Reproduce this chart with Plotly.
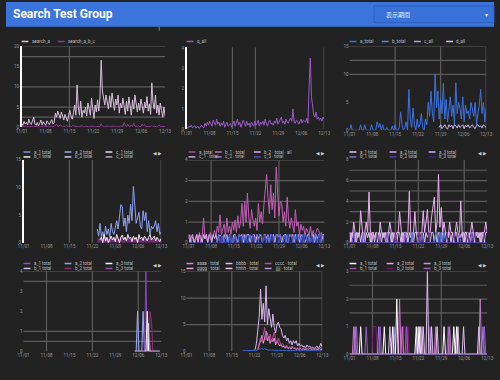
import plotly.graph_objects as go

W, H = 500, 380
BG = "#222222"
GRID = "#5c5c5c"
TICKC = "#9a9a9a"
FONT = "Roboto"

# ---------------- data ----------------
x_dates = ["11/01", "11/08", "11/15", "11/22", "11/29", "12/06", "12/13"]

# Panel 1
p1_light = [1, 0.5, 1.5, 0.8, 1.2, 0.6, 2, 1, 0.7, 1.5, 2.5, 0.8, 0.5, 1.2, 0.4, 1, 1.8, 0.6, 1.4, 0.9,
            0.5, 1.6, 1.1, 0.7, 1.3, 1.9, 0.8, 1.2,
            3.5, 2.5, 4, 3, 2.2, 3.8, 2.6, 1.8, 3.2, 2.4, 1.5, 3, 4.2, 2.8, 2, 3.6, 5.5, 3,
            10.5, 5, 3,
            6.5, 2.5, 4.2, 3.5, 5, 2.8, 6, 4, 3, 7.2, 4.5, 2.2, 5.5, 3.8, 6.8, 4, 7.5,
            16.6, 9, 6.5,
            5.5, 8, 6.2, 4.5, 7.8, 5, 8.5, 6.5, 4.2, 7, 5.5, 8, 3.5, 6, 4.8, 7.2, 5.2,
            3.2, 6.5, 4, 7.5, 5.5, 3, 6.8, 4.5, 8, 5, 3.8, 6, 4.2, 7, 5.5, 3.5, 6.2, 4.8, 7.6, 4, 5.8, 3.2,
            11, 6, 4.5, 8, 3.5,
            5.5, 3, 6, 4.2, 2.5, 5, 2.8]
p1_purple = [0.2, 0.1, 0.2, 0.3, 0.1, 0.2, 0.2, 0.1, 0.3, 0.2, 0.1, 0.2, 0.2, 0.3, 0.1, 0.2, 0.1, 0.2, 0.3, 0.2,
             0.2, 0.1, 0.2, 0.2, 0.1, 0.3, 0.2, 0.2, 0.5, 0.8, 0.3, 0.2, 0.6, 0.2, 0.1, 0.3, 0.2, 0.5, 0.2, 0.3,
             0.2, 0.1, 0.3, 0.6, 0.2, 0.2, 0.3, 0.1, 0.2, 0.2, 0.4, 0.2, 0.1, 0.3, 0.2, 0.2, 0.1, 0.3, 0.2, 0.2,
             0.3, 0.1, 0.2, 0.2, 0.3, 0.2, 0.9, 0.3, 0.2, 0.1, 0.2, 0.3, 0.2, 0.2, 0.1, 0.3, 0.2, 0.2, 0.3, 0.1,
             0.2, 0.2, 0.4, 0.2, 0.3, 1.2, 0.4, 0.2, 0.8, 0.3, 0.2, 0.6, 0.2, 1.0, 0.3, 0.2, 0.2, 0.4, 0.1, 0.2,
             0.8, 0.3, 0.7, 0.2, 0.2, 0.3, 0.2, 0.2, 0.5, 0.2, 0.3, 0.2, 0.1, 0.2, 0.6, 0.2, 0.2, 0.3, 0.2, 0.2]

# Panel 2
p2_purple = [0.1, 0.05, 0.15, 0.1, 0.2, 0.08, 0.12, 0.18, 0.06, 0.1, 0.15, 0.05, 0.12, 0.2, 0.1, 0.08, 0.3, 0.15, 0.35, 0.2,
             0.4, 0.25, 0.15, 0.45, 0.3, 0.2, 0.5, 0.25, 0.35, 0.15, 0.3, 0.2, 0.4, 0.1, 0.25, 0.35, 0.15, 0.2, 0.3, 0.1,
             0.25, 0.4, 0.15, 0.3, 0.5, 0.2, 0.35, 0.1, 0.25, 0.45, 0.3, 0.15, 0.4, 0.2, 0.3, 0.1, 0.35, 0.25, 0.15, 0.4,
             0.2, 0.3, 0.45, 0.15, 0.35, 0.25, 0.4, 0.2, 0.5, 0.3, 0.15, 0.35, 0.45, 0.25, 0.3, 0.2, 0.4, 0.3, 0.55, 0.25,
             0.35, 0.45, 0.6, 0.3, 0.4, 0.25, 0.5, 0.35, 0.3, 0.45, 0.55, 0.4, 1.0, 0.35, 0.3, 0.45, 0.4, 0.25, 0.35, 0.5,
             0.3, 0.45, 0.4, 0.35, 0.55, 0.3, 2.2, 3.5, 1.6, 1.0, 0.7, 0.6, 0.85, 0.5, 0.6, 0.45, 0.55, 0.4, 0.6, 0.5]

# Panel 3
p3_blue = [0, 1, 0, 0, 0, 0, 0, 0, 1, 0, 0, 1, 0, 0, 0, 0, 1, 0, 0, 0,
           1.5, 0.5, 1.2, 0, 1, 0, 0, 0.5, 0, 0, 0, 0.8, 0, 1, 0, 0, 0.5, 3.3, 1, 0,
           0.5, 1.5, 0, 7.3, 2, 0.5, 4, 1, 0, 2, 0.5, 1, 3, 0.5, 0, 2, 1, 5, 2.5, 7,
           3, 1.5, 10, 4, 7, 2, 5.5, 3, 8.4, 2, 5.5, 1.5, 3.5, 6, 2.5, 4.5, 1, 8.5, 3, 5,
           4, 2, 6, 1.5, 4.5, 3, 3.5, 2, 5, 4, 2.5, 5, 1, 3, 4.5, 7.3, 3, 5, 1.5, 4]
p3_lav_start = 65
p3_lav = [0.5, 1, 0.3, 0.8, 1, 0.5, 0.2, 1, 0.6, 0.9, 0.3, 1, 0.8, 0.4, 1, 0.5, 0.7, 1, 0.3, 0.9,
          0.6, 1, 0.4, 0.8, 1, 0.5, 0.3, 0.9, 1, 0.6, 0.8, 0.4, 1, 0.7, 0.5]

# Panel 4
p4_blue_start = 53
p4_blue = [2.5, 1.2, 3.5, 1, 2, 0.8, 3, 1.5, 2.5, 1, 3.5, 2, 1.5, 3, 4, 2.5, 5, 6.9, 6.5, 3,
           4.5, 2, 5, 3.5, 7, 4, 10.2, 6, 3.5, 4.5, 5.5, 3, 2.5, 5.8, 4, 5.5, 2, 4, 1.5, 3,
           2.5, 3, 4, 2, 3.5, 1.5, 2]
p4_white_start = 55
p4_white = [0.5, 1, 0, 1.5, 0.3, 1, 0, 0.8, 1.2, 0.5, 1, 0.2, 1.5, 0.8, 0, 1, 1.4, 0.5, 1, 0.3,
            1.5, 0.8, 1, 0.2, 1.2, 0.6, 1, 0, 1.5, 0.7, 1, 0.4, 1.2, 0.8, 0.3, 1, 1.5, 0.5, 0.8, 1.2,
            0.3, 1, 0.6, 0.2, 0.8]
p4_mag_start = 53
p4_mag = [0.8, 0.5, 1, 0.6, 0.9, 0.4, 1.1, 0.7, 0.5, 1, 0.8, 0.6, 0.9, 0.4, 1, 0.7, 0.5, 1.1, 0.8, 0.6,
          0.9, 0.5, 1, 0.7, 0.4, 0.9, 0.6, 1, 0.8, 0.5, 0.9, 0.7, 0.4, 1, 0.6, 0.8, 0.5, 0.9, 0.7, 1,
          0.4, 0.8, 0.6, 0.9, 0.5, 0.7, 0.6]

# Panel 5
p5_pink = [0.2, 0.4, 0, 0.3, 0.1, 0, 0.4, 0.2, 0.5, 0, 0.3, 1.2, 0.2, 0.4, 0, 0.3, 0.5, 0.1, 0.4, 0.6,
           0.3, 0.8, 0.5, 1.35, 0.4, 0.6, 0.9, 0.3, 1.2, 0.5, 0.8, 0.4, 1.0, 0.6, 1.1, 0.5, 1.3, 0.7, 1.0, 1.9,
           0.8, 2.0, 1.0, 2.4, 1.2, 0.7, 1.6, 1.1, 0.8, 1.2, 0.6, 1.9, 1.0, 1.5, 0.9, 1.8, 2.6, 3.3, 2.2, 1.4,
           2.8, 1.6, 2.4, 1.2, 3.65, 2.5, 1.3, 2.0, 1.9, 1.0, 1.5, 0.8, 2.2, 1.1, 0.7, 1.2, 0.9, 0.5, 1.6, 0.8,
           1.0, 0.4, 0.9, 0.6, 0.8, 0.3, 0.7, 0.5, 0.4, 0.8, 0.3, 0.6, 0.2, 0.5, 0.7, 0.6, 0.3, 0.5, 0.2, 0.4]
p5_lav = [0.4, 0, 0.3, 0.4, 0, 0.2, 0.4, 0, 0.4, 0.3, 0, 0.4, 0.2, 0.4, 0, 0.4, 0.3, 0, 0.4, 0.2,
          0.4, 0, 0.4, 0.3, 0.4, 0, 0.4, 0.2, 0.4, 0, 0.4, 0.3, 0, 0.4, 0.4, 0.2, 0, 0.4, 0.3, 0.4,
          0, 0.4, 0.2, 0.4, 0.4, 0, 0.3, 0.4, 0.4, 0, 0.4, 0.2, 0.4, 0.3, 0, 0.4, 0.4, 0.2, 0.4, 0,
          0.4, 0.3, 0.4, 0, 0.4, 0.4, 0.2, 0.4, 0, 0.3, 0.4, 0.4, 0, 0.2, 0.4, 0.3, 0.4, 0, 0.4, 0.2,
          0.4, 0, 0.4, 0.3, 0.4, 0, 0.2, 0.4, 0.4, 0, 0.3, 0.4, 0, 0.4, 0.2, 0.4, 0.3, 0, 0.4, 0.4]
p5_blue_start = 20
p5_blue = [0.2, 0, 0.4, 0, 0, 0.3, 0, 0.4, 0, 0, 0.4, 0, 0.2, 0, 0.4, 0, 0, 0.4, 0.3, 0,
           0.4, 0, 0.4, 0, 0.2, 0.4, 0, 0.4, 0, 0.3, 0.4, 0, 0.4, 0.4, 0, 0.2, 0.4, 0, 0.4, 0,
           0.4, 0.4, 0, 0.3, 0.4, 0.4, 0, 0.4, 0.2, 0, 0.4, 0, 0.4, 0, 0.3, 0.4, 0, 0.4, 0, 0.4,
           0.2, 0.4, 0, 0.4, 0, 0.4, 0.3, 0, 0.4, 0, 0.4, 0, 0.2, 0.4, 0, 0.4, 0, 0.3, 0.4, 0]
p5_navy_idx = [24, 31, 38, 47, 55, 61, 66, 73, 79, 84, 90, 96]
p5_navy_val = [0.4, 0.4, 0.3, 0.4, 0.4, 0.4, 0.3, 0.4, 0.4, 0.4, 0.3, 0.4]

# Panel 6
p6_pink = [0, 1, 0.5, 2, 1, 0, 1, 0.8, 3.1, 1, 0, 1, 2, 1, 4.9, 1, 0, 1, 0.5, 1,
           1, 0, 2, 1, 0.5, 1, 0, 1, 1, 2, 1, 0, 1, 0.5, 1, 1, 3, 1, 0, 1,
           1, 0.5, 1, 4.95, 1, 0, 1, 3, 1, 1, 0.5, 1, 1, 3.1, 1, 2, 3.2, 1, 1, 2.5,
           3.5, 4.4, 1, 2, 6.6, 1.5, 3.4, 1, 2, 1, 1, 0.5, 2, 1, 1, 0, 1, 2, 1, 0.5,
           4.05, 1, 1, 0, 1, 1, 0.5, 1, 2, 1, 0, 1, 1, 0.5, 1, 0, 1, 1, 2, 1]
p6_lav = [1, 0, 1, 1, 0, 1, 0.5, 1, 0, 1, 1, 0, 1, 0.5, 1, 0, 1, 1, 0, 1,
          0, 1, 1, 0, 1, 0.5, 1, 0, 1, 1, 0, 1, 0.5, 1, 0, 1, 1, 0, 1, 0,
          1, 1, 0, 1, 0.5, 1, 0, 1, 1, 0, 1, 0, 1, 1, 0, 1, 0.5, 1, 0, 1,
          1, 0, 1, 0, 1, 1, 0, 1, 0.5, 1, 0, 1, 1, 0, 1, 0, 1, 1, 0, 1,
          0.5, 1, 0, 1, 1, 0, 1, 0, 1, 1, 0, 1, 0.5, 1, 0, 1, 1, 0, 1, 1]
p6_blue_idx = [45, 62, 63, 65, 68]
p6_blue_val = [1, 1, 1, 1, 1]
p6_navy_idx = [20, 33, 50, 57, 70, 75, 85, 90, 97]
p6_navy_val = [1, 1, 1, 1, 1, 1, 1, 1, 1]
p6_purp_idx = [3, 10, 27, 40, 52, 66, 79, 88]
p6_purp_val = [1, 1, 1, 1, 1, 1, 1, 1]

# Panel 7 (values only at the end)
p7_start = 80
p7_lblue_idx, p7_lblue_val = [82, 86], [2, 2]
p7_purple_idx, p7_purple_val = [88], [4]
p7_white_idx, p7_white_val = [89], [2]
p7_pink_idx, p7_pink_val = [90], [1.4]
p7_mag_idx, p7_mag_val = [91, 92], [2, 1.5]

# Panel 8
p8_lav_start = 50
p8_lav = [0.3, 1.5, 4, 6.5, 11.7, 6, 9, 5.5, 12.3, 5, 8, 6.5, 4.5, 7, 4.5, 3.5, 5, 5.5, 4.5, 4.2,
          3, 2.5, 3, 2, 2.5, 1.5, 2, 1.2, 2, 1.5, 2, 1, 1.5, 1, 1.2, 0.8, 1, 0.7, 1.2, 0.8,
          1, 0.6, 0.8, 0.5, 0.7, 1, 0.6, 0.8, 1.5, 0.8]
p8_pink_start = 52
p8_pink = [0.5, 1.5, 2.5, 1.8, 3, 4.5, 2.2, 3.5, 2, 3.2, 1.8, 2.8, 3.6, 2.2, 1.5, 2.5, 1.8, 1.2, 1.5, 1,
           0.8, 1.2, 0.6, 0.9, 0.7, 1, 0.5, 0.8, 0.4, 0.7, 0.5, 0.6, 0.3, 0.5, 0.8, 0.4, 0.6, 0.3, 0.5, 0.7,
           0.4, 0.3, 0.5, 0.6, 0.3, 0.4, 0.8, 0.3]
p8_lpink_start = 52
p8_lpink = [0.3, 1, 2, 3, 1.5, 2.5, 3.8, 2, 2.8, 1.5, 2.2, 1.8, 2.5, 1.2, 2, 1.5, 1, 1.3, 0.8, 1,
            0.6, 0.9, 0.5, 0.7, 0.4, 0.8, 0.5, 0.6, 0.3, 0.5, 0.4, 0.6, 0.3, 0.5, 0.4, 0.3, 0.5, 0.4, 0.6, 0.3,
            0.4, 0.3, 0.5, 0.3, 0.4, 0.6, 0.3, 0.4]
p8_blue_start = 41
p8_blue = [0.1, 0.1, 0.2, 0.1, 0.1, 0.1, 0.2, 0.1, 0.1, 0.1, 0.2, 0.3, 0.5, 0.4, 0.6, 0.3, 0.5, 0.4, 0.3, 0.2,
           0.3, 0.2, 0.3, 0.2, 0.1, 0.2, 0.1, 0.2, 0.1, 0.1, 0.2, 0.1, 0.1, 0.2, 0.1, 0.1, 0.2, 0.1, 0.1, 0.1,
           0.2, 0.1, 0.1, 0.1, 0.2, 0.1, 0.1, 0.1, 0.2, 0.1, 0.1, 0.1, 0.2, 0.1, 0.1, 0.1, 0.2, 0.1, 0.1]

# Panel 9 (counts)
p9_white_idx, p9_white_val = [8, 25, 31, 34, 48, 50, 68, 75, 77], [1, 1, 1, 2, 1, 1, 1, 1, 1]
p9_lav_idx, p9_lav_val = [29, 51, 53, 56, 59, 63, 78, 82, 93], [1, 1, 1, 3, 1, 1, 1, 1, 1]
p9_pink_idx, p9_pink_val = [3, 36, 38, 52, 62, 72, 94], [1, 2, 1, 1, 1, 1, 2]
p9_purp_idx, p9_purp_val = [5, 12, 22, 41, 58, 71, 97], [1, 1, 1, 1, 1, 1, 1]
p9_mag_idx, p9_mag_val = [17, 18, 19, 37, 39, 40, 42], [1, 1, 1, 1, 1, 1, 1]
p9_mpur_idx, p9_mpur_val = [4, 21, 32, 49, 96], [1, 1, 1, 1, 1]

# legend labels / colours
leg = {
    1: [("search_a", "#ddc6e0"), ("search_a_b_c", "#8e3a8e")],
    2: [("q_all", "#9a5cc6")],
    3: [("a_total", "#3d72e0"), ("b_total", "#5a82ea"), ("c_all", "#a0a0f0"), ("d_all", "#d0c0f0")],
    4: [("a_1 total", "#7b8fe0"), ("a_2 total", "#98aaf0"), ("c_1 total", "#e8e0f0"),
        ("b_1 total", "#f0f0f0"), ("b_2 total", "#d8c8e8"), ("c_2 total", "#c8a0d0")],
    5: [("a_total", "#a8509a"), ("b_1 · total", "#c070b8"), ("b_2 · total · all", "#e0a0e8"),
        ("c_1 · total", "#c8b0f0"), ("c_2 · total", "#8c70e0"), ("c_3 · total", "#5050d0")],
    6: [("a_1 total", "#e0c8f0"), ("a_2 total", "#d0b0e8"), ("a_3 total", "#c8b8f0"),
        ("b_1 total", "#8070e0"), ("b_2 total", "#5040c0"), ("b_3 total", "#302890")],
    7: [("a_1 total", "#9a50c0"), ("a_2 total", "#8aa0f0"), ("a_3 total", "#ffffff"),
        ("b_1 total", "#c0c8f0"), ("b_2 total", "#8a2a6a"), ("b_3 total", "#9a50b0")],
    8: [("aaaa · total", "#c890d8"), ("bbbb · total", "#e0c0f0"), ("cccc · total", "#b04c9c"),
        ("gggg · total", "#e8a8d8"), ("hhhh · total", "#f0c0e0"), ("jjjj · total", "#b0a0e0")],
    9: [("a_1 total", "#ffffff"), ("a_2 total", "#d8b0e0"), ("a_3 total", "#c890d8"),
        ("b_1 total", "#a050b0"), ("b_2 total", "#6a1a5a"), ("b_3 total", "#9a60c0")],
}


def seq(start, vals):
    return list(range(start, start + len(vals))), vals


def spikes(n, start, idx, val):
    d = dict(zip(idx, val))
    xs = list(range(start, n))
    return xs, [d.get(i, 0) for i in xs]


def S(xy, c, fill=None, fc=None):
    return dict(x=xy[0], y=xy[1], c=c, fill=fill, fc=fc)


panels = [
    dict(box=(16, 163, 45, 127), n=120, yr=[0, 20], yv=[0, 5, 10, 15, 20], yt=["0", "5", "10", "15", "20"],
         vg=[2], hg=[2.5, 5, 10, 17.5, 20], axis=True, legx=[16, 53], legrows=[40], pager=None,
         series=[S(seq(0, p1_light), "#d9c0dc"), S(seq(0, p1_purple), "#8e3a8e")]),
    dict(box=(185, 326, 46, 129), n=120, yr=[0, 4.03], yv=[0, 1, 2, 3, 4], yt=["0", "1", "2", "3", "4"],
         vg=[2, 3, 6], hg=[], axis=True, legx=[185], legrows=[40], pager=None,
         series=[S(seq(0, p2_purple), "#9a5cc6")]),
    dict(box=(352, 492, 45, 130), n=100, yr=[0, 15], yv=[0, 5, 10, 15], yt=["0", "5", "10", "15"],
         vg=[2, 4, 6], hg=[10, 12.5, 15], axis=False, legx=[352, 385, 418, 451], legrows=[40], pager=None,
         series=[S(seq(0, p3_blue), "#3d72e0"), S(seq(p3_lav_start, p3_lav), "#c8b8f0")]),
    dict(box=(18, 159, 160, 244), n=100, yr=[0, 15], yv=[0, 5, 10, 15], yt=["0", "5", "10", "15"],
         vg=[2, 3, 6], hg=[], axis=True, legx=[18, 60, 102], legrows=[152, 157], pager=(155, 154),
         series=[S(seq(p4_mag_start, p4_mag), "#7a2a80", "tozeroy", "rgba(122,42,128,0.85)"),
                 S(seq(p4_blue_start, p4_blue), "#8ea2f0"),
                 S(seq(p4_white_start, p4_white), "#f0eaf4")]),
    dict(box=(187, 326, 160, 244), n=100, yr=[0, 4], yv=[0, 1, 2, 3, 4], yt=["0", "1", "2", "3", "4"],
         vg=[1, 4], hg=[1, 2, 3, 4], axis=False, legx=[187, 214, 254], legrows=[152, 157], pager=(322, 154),
         series=[S(seq(0, p5_pink), "#c060b4"), S(seq(0, p5_lav), "#d8b0f0"),
                 S(seq(p5_blue_start, p5_blue), "#4a6ae0"),
                 S(spikes(100, 0, p5_navy_idx, p5_navy_val), "#3a3aa8")]),
    dict(box=(352, 493, 160, 244), n=100, yr=[0, 8], yv=[0, 2, 4, 6, 8], yt=["0", "2", "4", "6", "8"],
         vg=[2, 3, 5], hg=[2, 3, 4, 5, 6, 7], axis=False, legx=[352, 393, 433], legrows=[152, 157], pager=(488, 154),
         series=[S(seq(0, p6_lav), "#d8c8f4"), S(seq(0, p6_pink), "#eab0f0"),
                 S(spikes(100, 0, p6_purp_idx, p6_purp_val), "#7a5ad8"),
                 S(spikes(100, 0, p6_blue_idx, p6_blue_val), "#3a70e0"),
                 S(spikes(100, 0, p6_navy_idx, p6_navy_val), "#5a2a7a")]),
    dict(box=(18, 159, 273, 354), n=100, yr=[0, 4], yv=[0, 1, 2, 3, 4], yt=["0", "1", "2", "3", "4"],
         vg=[1, 3, 5], hg=[0.5, 1, 3.5, 4], axis=False, legx=[18, 60, 102], legrows=[265, 270], pager=(155, 267),
         series=[S(spikes(99, p7_start, p7_lblue_idx, p7_lblue_val), "#9ab0f8"),
                 S(spikes(99, p7_start, p7_purple_idx, p7_purple_val), "#8e44c4"),
                 S(spikes(99, p7_start, p7_pink_idx, p7_pink_val), "#e8c0f0"),
                 S(spikes(99, p7_start, p7_mag_idx, p7_mag_val), "#9a2a80"),
                 S(spikes(99, p7_start, p7_white_idx, p7_white_val), "#ffffff")]),
    dict(box=(185, 324, 273, 354), n=100, yr=[0, 15], yv=[0, 5, 10, 15], yt=["0", "5", "10", "15"],
         vg=[1, 2, 5, 6], hg=[5, 10, 15], axis=False, legx=[185, 225, 265], legrows=[265, 270], pager=(322, 267),
         series=[S(seq(p8_lav_start, p8_lav), "#d8b8f0"), S(seq(p8_lpink_start, p8_lpink), "#e8a0d8"),
                 S(seq(p8_pink_start, p8_pink), "#b8509c"), S(seq(p8_blue_start, p8_blue), "#3a6ad8")]),
    dict(box=(352, 493, 273, 357), n=100, yr=[0, 3], yv=[0, 1, 2, 3], yt=["0", "1", "2", "3"],
         vg=[1, 4], hg=[1.5, 2, 2.5, 3], axis=False, legx=[352, 390, 428], legrows=[265, 270], pager=(488, 267),
         series=[S(spikes(100, 0, p9_mag_idx, p9_mag_val), "#7a1e6e"),
                 S(spikes(100, 0, p9_mpur_idx, p9_mpur_val), "#a080e0"),
                 S(spikes(100, 0, p9_purp_idx, p9_purp_val), "#9a5ad0"),
                 S(spikes(100, 0, p9_pink_idx, p9_pink_val), "#c878c8"),
                 S(spikes(100, 0, p9_lav_idx, p9_lav_val), "#dcc0ec"),
                 S(spikes(100, 0, p9_white_idx, p9_white_val), "#ffffff"),
                 S(spikes(100, 0, [], []), "#2a2a88")]),
]

fig = go.Figure()
layout_axes = {}
shapes = []
annotations = []

for i, p in enumerate(panels, start=1):
    xa = "xaxis" if i == 1 else f"xaxis{i}"
    ya = "yaxis" if i == 1 else f"yaxis{i}"
    xr = "x" if i == 1 else f"x{i}"
    yr = "y" if i == 1 else f"y{i}"
    x0, x1, yt, yb = p["box"]
    n = p["n"]
    tickpos = [k * (n - 1) / 6 for k in range(7)]
    layout_axes[xa] = dict(domain=[x0 / W, x1 / W], anchor=yr, range=[0, n - 1], tickmode="array",
                           tickvals=tickpos, ticktext=x_dates, showgrid=False, zeroline=False,
                           showline=False, ticks="", tickfont=dict(size=4.5, color=TICKC), fixedrange=True)
    layout_axes[ya] = dict(domain=[1 - yb / H, 1 - yt / H], anchor=xr, range=p["yr"], tickmode="array",
                           tickvals=p["yv"], ticktext=p["yt"], showgrid=False, zeroline=False,
                           showline=p["axis"], linecolor="#ffffff", linewidth=1.5, ticks="",
                           tickfont=dict(size=4.5, color=TICKC), fixedrange=True)
    for k in p["vg"]:
        shapes.append(dict(type="line", xref=xr, yref=f"{yr} domain", x0=tickpos[k], x1=tickpos[k],
                           y0=0, y1=1, line=dict(color=GRID, width=1.2), layer="below"))
    for v in p["hg"]:
        shapes.append(dict(type="line", xref=f"{xr} domain", yref=yr, x0=0, x1=1, y0=v, y1=v,
                           line=dict(color=GRID, width=1.2), layer="below"))
    for s in p["series"]:
        fig.add_trace(go.Scatter(x=s["x"], y=s["y"], mode="lines", line=dict(color=s["c"], width=1),
                                 fill=s["fill"], fillcolor=s["fc"], xaxis=xr, yaxis=yr,
                                 showlegend=False, hoverinfo="skip"))
    # legend (drawn as swatch + text)
    items = leg[i]
    ncol = len(p["legx"])
    for j, (lab, col) in enumerate(items):
        lx = p["legx"][j % ncol]
        ly = p["legrows"][j // ncol]
        shapes.append(dict(type="line", xref="paper", yref="paper", x0=lx / W, x1=(lx + 7) / W,
                           y0=1 - ly / H, y1=1 - ly / H, line=dict(color=col, width=1.5)))
        annotations.append(dict(xref="paper", yref="paper", x=(lx + 8.5) / W, y=1 - ly / H, text=lab,
                                showarrow=False, xanchor="left", yanchor="middle",
                                font=dict(size=4.5, color="#bdbdbd", family=FONT)))
    if p["pager"]:
        px_, py_ = p["pager"]
        annotations.append(dict(xref="paper", yref="paper", x=px_ / W, y=1 - py_ / H, text="◀ ▶",
                                showarrow=False, xanchor="center", yanchor="middle",
                                font=dict(size=4.5, color="#d0d0d0", family="DejaVu Sans")))

# header
shapes.insert(0, dict(type="rect", xref="paper", yref="paper", x0=0, x1=1, y0=1 - 25 / H, y1=1,
                      fillcolor="#3b74db", line=dict(width=0), layer="below"))
shapes.append(dict(type="rect", xref="paper", yref="paper", x0=377 / W, x1=1, y0=1 - 21 / H, y1=1 - 4 / H,
                   fillcolor="#3a71d8", line=dict(color="#2c5fbf", width=1)))
shapes.append(dict(type="line", xref="paper", yref="paper", x0=157 / W, x1=157 / W, y0=1 - 29 / H,
                   y1=1 - 25 / H, line=dict(color="#888888", width=1)))
annotations.append(dict(xref="paper", yref="paper", x=5 / W, y=1 - 12.5 / H, text="<b>Search Test Group</b>",
                        showarrow=False, xanchor="left", yanchor="middle",
                        font=dict(size=12, color="#ffffff", family=FONT)))
annotations.append(dict(xref="paper", yref="paper", x=387 / W, y=1 - 12.5 / H, text="表示期間",
                        showarrow=False, xanchor="left", yanchor="middle",
                        font=dict(size=6, color="#e8eefc", family="Noto Sans CJK JP")))
annotations.append(dict(xref="paper", yref="paper", x=492 / W, y=1 - 12.5 / H, text="▾",
                        showarrow=False, xanchor="center", yanchor="middle",
                        font=dict(size=6, color="#e8eefc", family="DejaVu Sans")))

fig.update_layout(width=W, height=H, margin=dict(l=0, r=0, t=0, b=0), paper_bgcolor=BG,
                  plot_bgcolor=BG, shapes=shapes, annotations=annotations, showlegend=False,
                  font=dict(family=FONT, color=TICKC), **layout_axes)

fig.write_html("out.html", config={"displayModeBar": False},
               post_script="document.body.style.margin='0';document.body.style.overflow='hidden';"
                           "document.body.style.background='#222222';")
